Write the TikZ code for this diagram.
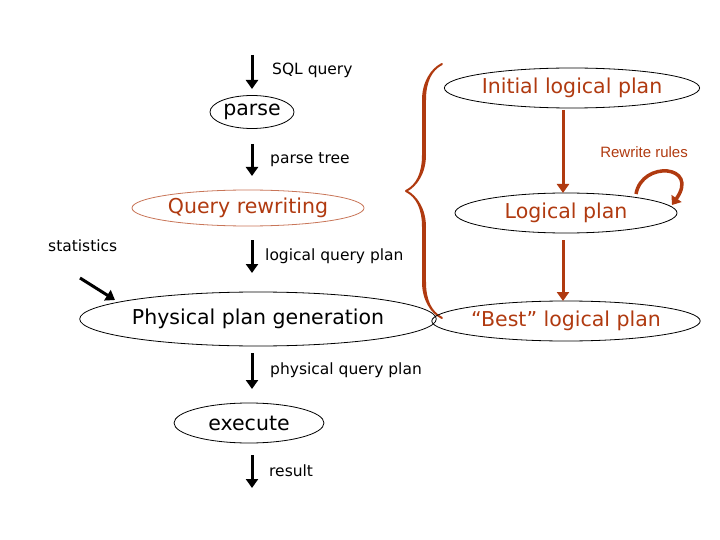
\documentclass[tikz,border=0pt]{standalone}
\usepackage{fontspec}
\setmainfont{DejaVu Sans}
\newfontfamily\arialf{Liberation Sans}
\usetikzlibrary{arrows.meta,decorations.pathreplacing,calligraphy,shapes.geometric}
\definecolor{rust}{HTML}{B03A10}
\begin{document}
\begin{tikzpicture}[x=1pt,y=-1pt,
  ell/.style={draw,ellipse,inner sep=0pt,line width=0.8pt},
  big/.style={font=\fontsize{20.5}{22}\selectfont},
  sm/.style={font=\fontsize{15.5}{17}\selectfont,anchor=west,inner sep=0pt},
  darr/.style={line width=3pt,-{Triangle[length=9pt,width=12pt]}},
  rarr/.style={rust,line width=3pt,-{Triangle[length=9pt,width=12pt]}}]
\useasboundingbox (0,0) rectangle (720,540);
% left column
\coordinate (a1s) at (252,55); \coordinate (a1e) at (252,89);
\draw[darr] (a1s) -- (a1e);
\node[sm] (sql) at (272,70) {SQL query};
\node[ell,big,minimum width=84pt,minimum height=33pt] (parse) at (252,112) {parse};
\coordinate (a2s) at (252,144); \coordinate (a2e) at (252,176);
\draw[darr] (a2s) -- (a2e);
\node[sm] (pt) at (270,160) {parse tree};
\node[ell,big,draw=rust!70,text=rust,minimum width=232pt,minimum height=36pt] (qr) at (248,208) {Query rewriting};
\node[sm] (stat) at (48,246) {statistics};
\coordinate (a3s) at (252,240); \coordinate (a3e) at (252,273);
\draw[darr] (a3s) -- (a3e);
\node[sm] (lqp) at (265,256) {logical query plan};
\coordinate (s1) at (80,278); \coordinate (s2) at (115,300);
\draw[darr] (s1) -- (s2);
\node[ell,big,minimum width=312pt,minimum height=54pt] (ppg) at (258,319) {Physical plan generation};
\coordinate (a4s) at (252,353); \coordinate (a4e) at (252,389);
\draw[darr] (a4s) -- (a4e);
\node[sm] (pqp) at (270,370) {physical query plan};
\node[ell,big,minimum width=150pt,minimum height=40pt] (ex) at (249,423) {execute};
\coordinate (a5s) at (252,455); \coordinate (a5e) at (252,488);
\draw[darr] (a5s) -- (a5e);
\node[sm] (res) at (269,471) {result};
% brace
\coordinate (b1) at (442,318); \coordinate (b2) at (442,64);
\draw[rust,line width=4pt,decorate,decoration={calligraphic brace,amplitude=36pt},pen colour={rust}] (b1) -- (b2);
% right column
\node[ell,big,text=rust,minimum width=230pt,minimum height=40pt] (ilp) at (572,88) {Initial logical plan};
\node[ell,big,text=rust,minimum width=222pt,minimum height=40pt] (lp) at (566,213) {Logical plan};
\node[ell,big,text=rust,minimum width=222pt,minimum height=40pt] (blp) at (566,321) {“Best” logical plan};
\coordinate (r1) at (563,110); \coordinate (r2) at (563,193);
\coordinate (r3) at (563,240); \coordinate (r4) at (563,301);
\draw[rarr] (r1) -- (r2);
\draw[rarr] (r3) -- (r4);
\node[font=\arialf\fontsize{15}{17}\selectfont,text=rust,anchor=east,inner sep=0pt] (rr) at (688,152) {Rewrite rules};
\coordinate (l1) at (636,194); \coordinate (l2) at (672,205);
\draw[rust,line width=3.5pt,-{Triangle[length=8pt,width=12pt]}] (l1) .. controls (642,160) and (700,165) .. (l2);
\end{tikzpicture}
\end{document}
